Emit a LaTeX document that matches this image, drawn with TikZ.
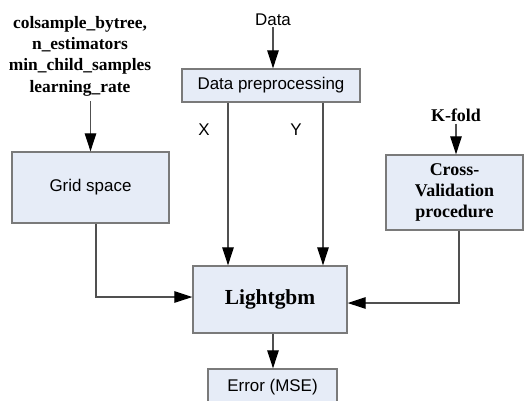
\documentclass[tikz,border=0pt]{standalone}
\usepackage{fontspec}
\setmainfont{Liberation Serif}
\newfontfamily\arialfont{Liberation Sans}
\usetikzlibrary{arrows.meta}
\definecolor{boxfill}{HTML}{E6ECF7}
\definecolor{boxedge}{HTML}{7A7A7A}
\definecolor{wire}{HTML}{505050}
\tikzset{
  block/.style={draw=boxedge, line width=1.3bp, fill=boxfill, inner sep=0pt, align=center},
  sanslabel/.style={font=\arialfont\fontsize{17}{20}\selectfont, inner sep=1bp},
  seriflabel/.style={font=\bfseries\fontsize{17.5}{21.5}\selectfont, align=center, inner sep=1bp},
  flow/.style={draw=wire, line width=1.2bp, -{Triangle[length=18bp, width=11.5bp, fill=black, color=black]}},
}
\begin{document}
\begin{tikzpicture}[x=1bp, y=-1bp]
\useasboundingbox (0,0) rectangle (525,400);

% text inputs
\node[seriflabel] (params) at (80,56) {colsample\_bytree,\\n\_estimators\\min\_child\_samples\\learning\_rate};
\node[sanslabel] (data) at (273,20) {Data};
\node[seriflabel, font=\bfseries\fontsize{18}{21}\selectfont] (kfold) at (456,115) {K-fold};

% blocks
\node[block, minimum width=157bp, minimum height=71bp, font=\arialfont\fontsize{17}{20}\selectfont] (grid) at (90.5,187.5) {Grid space};
\node[block, minimum width=178bp, minimum height=33bp, font=\arialfont\fontsize{17}{20}\selectfont] (prep) at (271,85.5) {Data preprocessing};
\node[block, minimum width=154bp, minimum height=67bp, font=\bfseries\fontsize{21.5}{24}\selectfont] (lgb) at (270,299.5) {Lightgbm};
\node[block, minimum width=129bp, minimum height=36bp, font=\arialfont\fontsize{17}{20}\selectfont] (err) at (272.5,387) {Error (MSE)};
\node[block, minimum width=137bp, minimum height=75bp, font=\bfseries\fontsize{18}{21}\selectfont] (cv) at (454.5,192.5) {Cross-\\Validation\\procedure};

% X / Y labels
\node[sanslabel] (xlab) at (204,130) {X};
\node[sanslabel] (ylab) at (296,130) {Y};

% connectors
\draw[flow] (grid.north |- params.south) ++(0,4) -- (grid.north);
\draw[flow] (data.south) -- (data.south |- prep.north);
\draw[flow] (kfold.south) ++(0,1) -- (kfold.south |- cv.north);
\coordinate (xtop) at (228,0);
\coordinate (ytop) at (323,0);
\draw[flow] (xtop |- prep.south) -- (xtop |- lgb.north);
\draw[flow] (ytop |- prep.south) -- (ytop |- lgb.north);
\draw[flow] ([xshift=5.5bp]grid.south) |- ([yshift=2.5bp]lgb.west);
\draw[flow] ([xshift=4.5bp]cv.south) |- ([yshift=-3.5bp]lgb.east);
\draw[flow] ([xshift=3bp]lgb.south) -- ([xshift=3bp]lgb.south |- err.north);
\end{tikzpicture}
\end{document}
